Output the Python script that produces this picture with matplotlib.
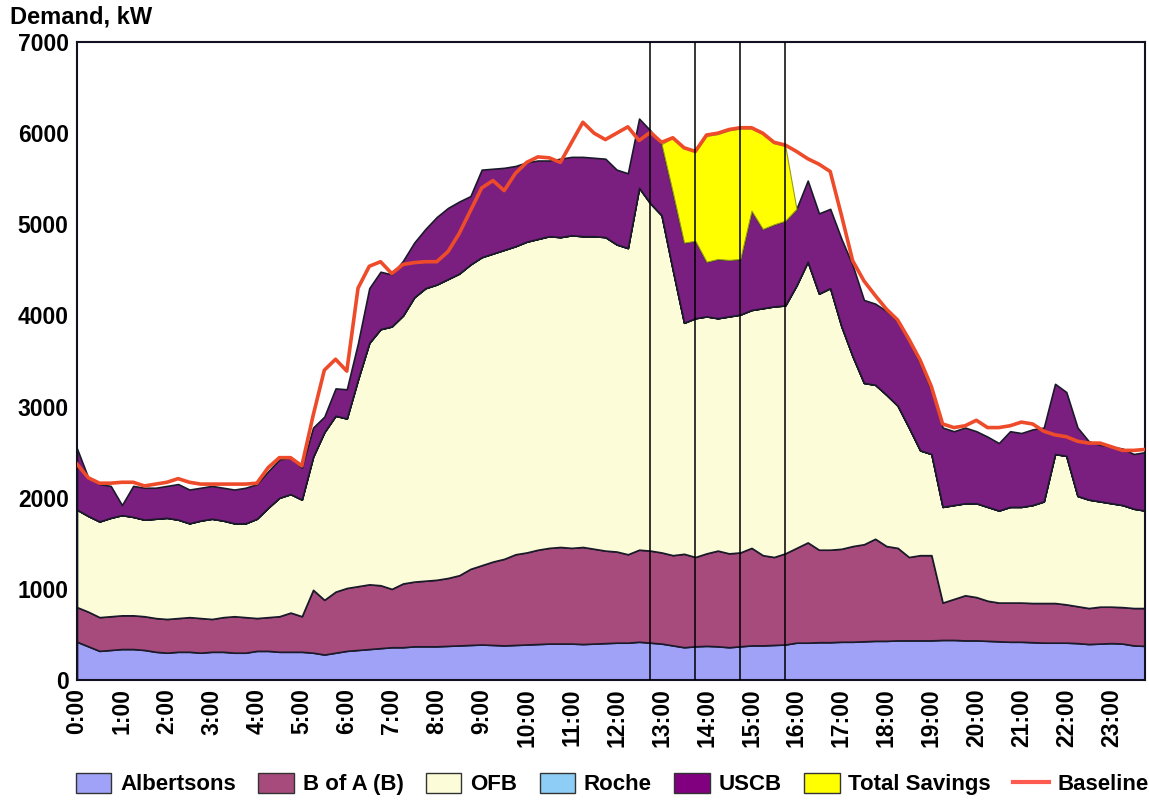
import numpy as np
import matplotlib.pyplot as plt
from matplotlib.patches import Patch
from matplotlib.lines import Line2D

plt.rcParams['font.family'] = ['Liberation Sans', 'DejaVu Sans']
plt.rcParams['font.weight'] = 'bold'

# 15-minute intervals, 0:00 .. 23:45
hours = np.arange(96) / 4.0
tick_hours = np.arange(24)
tick_labels = [f"{h}:00" for h in tick_hours]

# top of each stacked layer (kW)
albertsons_top = [420, 370, 320, 330, 340, 340, 330, 310, 300, 310, 310, 300, 310, 310, 300, 300,
                  320, 320, 310, 310, 310, 300, 280, 300, 320, 330, 340, 350, 360, 360, 370, 370,
                  370, 375, 380, 385, 390, 385, 380, 385, 390, 395, 400, 400, 400, 395, 400, 405,
                  410, 410, 420, 410, 400, 380, 360, 370, 375, 370, 360, 370, 380, 380, 385, 390,
                  410, 410, 415, 415, 420, 420, 425, 430, 430, 435, 435, 435, 435, 440, 440, 435,
                  435, 430, 425, 420, 420, 415, 410, 410, 410, 405, 395, 400, 405, 400, 380, 375]
bofa_top = [800, 750, 690, 700, 710, 710, 700, 680, 670, 680, 690, 680, 670, 690, 700, 690,
            680, 690, 700, 740, 700, 990, 880, 970, 1010, 1030, 1050, 1040, 1000, 1060, 1080, 1090,
            1100, 1120, 1150, 1220, 1260, 1300, 1330, 1380, 1400, 1430, 1450, 1460, 1450, 1460, 1440, 1420,
            1410, 1380, 1430, 1420, 1400, 1370, 1385, 1350, 1390, 1420, 1390, 1400, 1450, 1370, 1350, 1390,
            1450, 1510, 1430, 1430, 1440, 1470, 1490, 1550, 1470, 1450, 1350, 1370, 1370, 850, 890, 930,
            910, 870, 850, 850, 850, 845, 845, 845, 830, 810, 790, 805, 805, 800, 790, 790]
ofb_top = [1870, 1800, 1740, 1780, 1810, 1790, 1760, 1770, 1780, 1760, 1720, 1750, 1770, 1750, 1720, 1720,
           1770, 1890, 2000, 2040, 1980, 2450, 2720, 2900, 2870, 3300, 3700, 3850, 3880, 4000, 4200, 4300,
           4340, 4400, 4460, 4560, 4640, 4680, 4720, 4760, 4810, 4840, 4870, 4860, 4880, 4870, 4870, 4860,
           4780, 4740, 5400, 5230, 5100, 4500, 3920, 3970, 3990, 3970, 3990, 4010, 4060, 4080, 4100, 4110,
           4330, 4590, 4240, 4300, 3880, 3550, 3260, 3240, 3130, 3010, 2770, 2520, 2480, 1900, 1920, 1940,
           1940, 1900, 1860, 1900, 1900, 1920, 1960, 2480, 2460, 2020, 1980, 1960, 1940, 1920, 1880, 1860]
uscb_top = [2540, 2220, 2150, 2130, 1920, 2130, 2110, 2110, 2130, 2150, 2090, 2110, 2130, 2110, 2090, 2110,
            2150, 2290, 2420, 2440, 2330, 2770, 2890, 3200, 3190, 3700, 4300, 4480, 4450, 4600, 4800, 4950,
            5080, 5180, 5250, 5310, 5600, 5610, 5620, 5640, 5680, 5700, 5700, 5720, 5740, 5740, 5730, 5720,
            5600, 5560, 6160, 6030, 5880, 5350, 4800, 4820, 4590, 4620, 4610, 4620, 5150, 4950, 5000, 5040,
            5170, 5480, 5120, 5170, 4840, 4550, 4170, 4130, 4050, 3930, 3720, 3470, 3180, 2770, 2730, 2770,
            2730, 2670, 2600, 2730, 2710, 2750, 2770, 3250, 3160, 2770, 2620, 2580, 2560, 2540, 2480, 2500]
# savings window 13:00 .. 16:00
savings_hours = [13.0, 13.25, 13.5, 13.75, 14.0, 14.25, 14.5, 14.75, 15.0, 15.25, 15.5, 15.75, 16.0]
savings_top = [5880, 5950, 5850, 5800, 5970, 5990, 6030, 6050, 6050, 5990, 5890, 5860, 5170]
baseline = [2370, 2220, 2160, 2160, 2170, 2170, 2130, 2150, 2170, 2210, 2170, 2150, 2150, 2150, 2150, 2150,
            2160, 2330, 2440, 2440, 2350, 2900, 3400, 3520, 3390, 4300, 4540, 4590, 4460, 4560, 4580, 4590,
            4590, 4700, 4900, 5150, 5400, 5480, 5370, 5560, 5680, 5740, 5730, 5680, 5900, 6120, 6000, 5930,
            6000, 6070, 5920, 6010, 5900, 5950, 5840, 5800, 5980, 6000, 6040, 6060, 6060, 6000, 5900, 5870,
            5800, 5720, 5660, 5580, 5100, 4600, 4380, 4220, 4070, 3950, 3740, 3510, 3220, 2810, 2770, 2790,
            2850, 2770, 2770, 2790, 2830, 2810, 2730, 2690, 2670, 2620, 2600, 2600, 2560, 2520, 2520, 2530]
event_lines = [12.75, 13.75, 14.75, 15.75]

albertsons = np.array(albertsons_top)
bofa = np.array(bofa_top) - np.array(albertsons_top)
ofb = np.array(ofb_top) - np.array(bofa_top)
roche = np.zeros(96)
uscb = np.array(uscb_top) - np.array(ofb_top)

colors = ['#A0A2F7', '#A64B7B', '#FCFCD8', '#8ECDF5', '#7A1F80']

fig = plt.figure(figsize=(11.49, 8.01), dpi=100)
ax = fig.add_axes([0.067, 0.151, 0.9295, 0.7965])

ax.stackplot(hours, albertsons, bofa, ofb, roche, uscb, colors=colors,
             edgecolor='#1a1a2a', linewidth=1.2)

sav_base = np.interp(savings_hours, hours, uscb_top)
ax.fill_between(savings_hours, sav_base, savings_top, color='#FFFF00',
                edgecolor='#9a9a20', linewidth=0.8, zorder=3)

ax.plot(hours, baseline, color='#EE4B2B', linewidth=2.6, zorder=4)

for xv in event_lines:
    ax.axvline(xv, color='black', linewidth=1.1, zorder=5)

ax.set_xlim(0, 23.75)
ax.set_ylim(0, 7000)
ax.set_yticks(np.arange(0, 7001, 1000))
ax.set_xticks(tick_hours)
ax.set_xticklabels(tick_labels, rotation=90)
ax.tick_params(axis='both', length=0, labelsize=16.5, pad=6)
for lab in ax.get_xticklabels() + ax.get_yticklabels():
    lab.set_fontweight('bold')
for sp in ax.spines.values():
    sp.set_linewidth(1.5)
    sp.set_color('#111122')

fig.text(0.009, 0.964, 'Demand, kW', fontsize=17, fontweight='bold', ha='left', va='bottom')

handles = [Patch(facecolor=colors[0], edgecolor='#333333', label='Albertsons'),
           Patch(facecolor=colors[1], edgecolor='#333333', label='B of A (B)'),
           Patch(facecolor=colors[2], edgecolor='#333333', label='OFB'),
           Patch(facecolor=colors[3], edgecolor='#333333', label='Roche'),
           Patch(facecolor='#800080', edgecolor='#333333', label='USCB'),
           Patch(facecolor='#FFFF00', edgecolor='#333333', label='Total Savings'),
           Line2D([0], [0], color='#FF5A50', linewidth=3, label='Baseline')]
fig.legend(handles=handles, loc='lower center', bbox_to_anchor=(0.533, -0.018), ncol=7,
           frameon=False, fontsize=16, handlelength=1.6, handleheight=1.0,
           columnspacing=1.0, handletextpad=0.4)

fig.savefig('out.png', dpi=100)
